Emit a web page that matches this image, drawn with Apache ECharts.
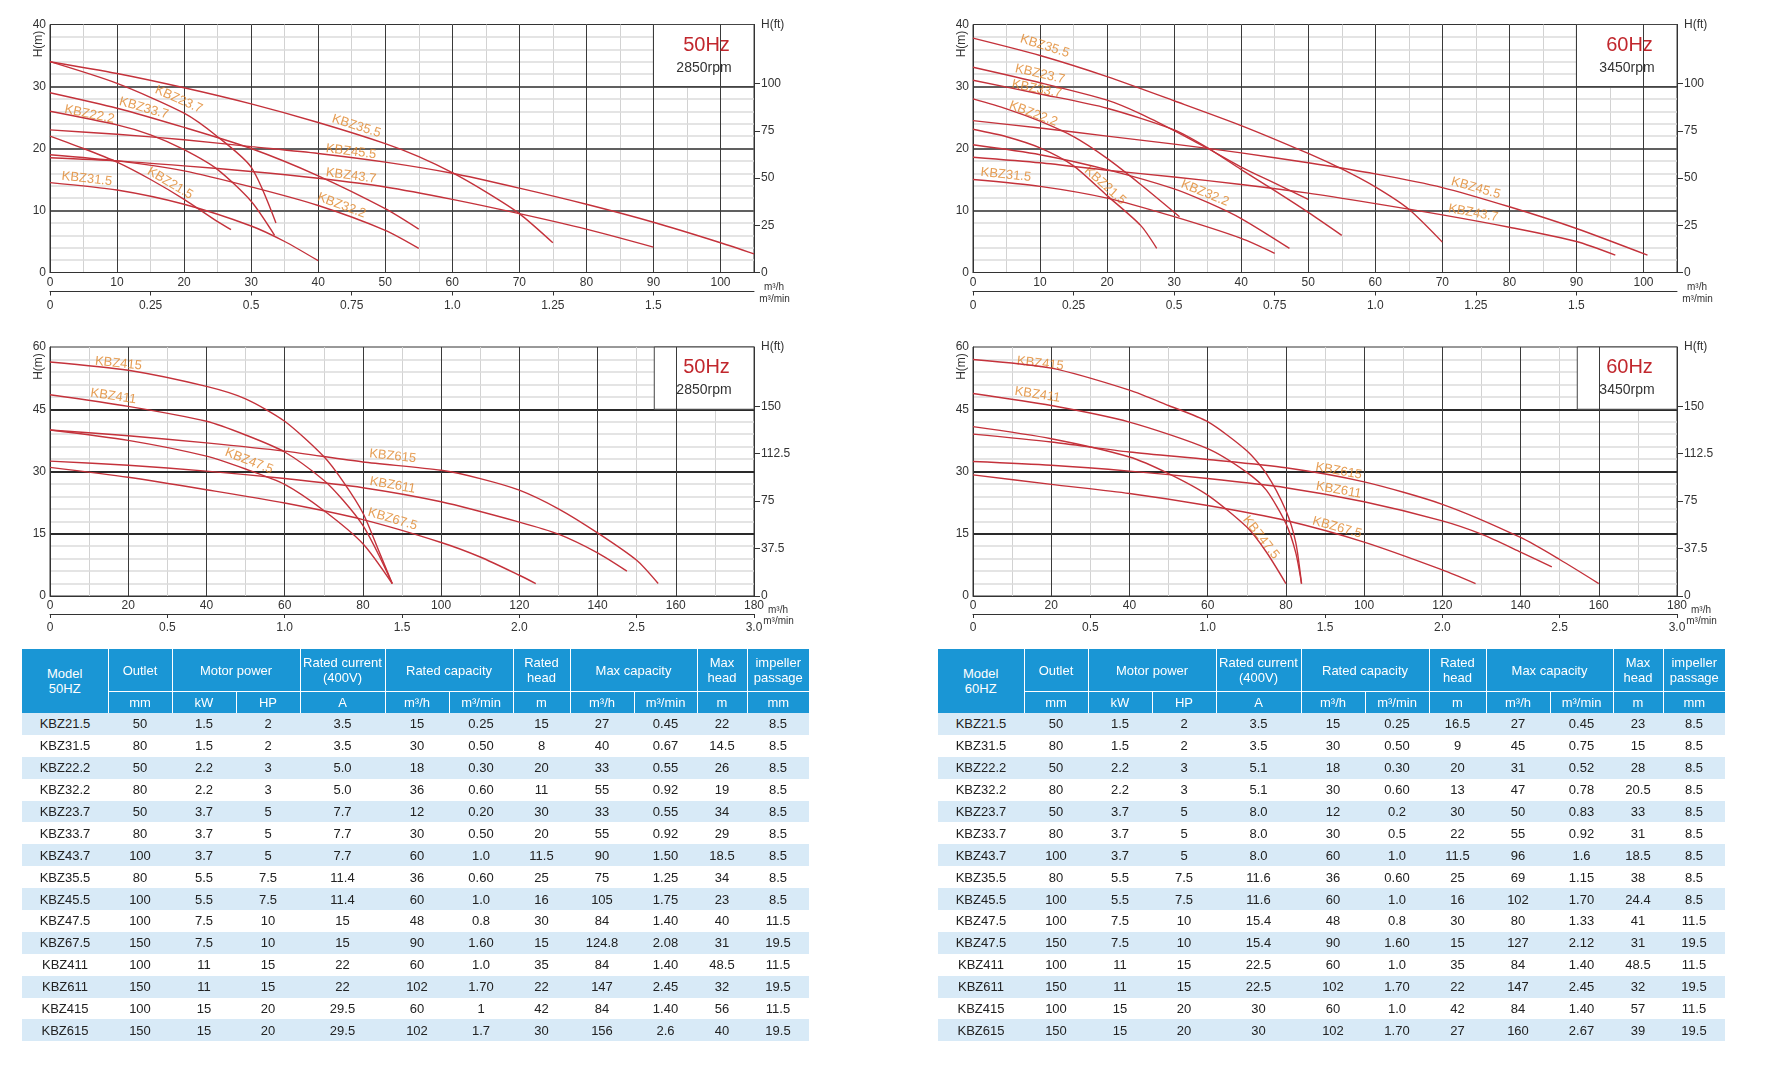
<!DOCTYPE html>
<html>
<head>
<meta charset="utf-8">
<script src="https://cdn.jsdelivr.net/npm/echarts@6/dist/echarts.min.js"></script>
<style>
  html, body { margin: 0; padding: 0; background: #fff; }
  #main { position: absolute; left: 0; top: 0; width: 1765px; height: 1091px; }
  table.spec { position: absolute; top: 649px; border-collapse: collapse; table-layout: fixed;
    font-family: 'Liberation Sans', Arial, sans-serif; font-size: 13px; color: #222; }
  table.spec td { text-align: center; padding: 0; white-space: nowrap; overflow: hidden; }
  table.spec tr.h1 td { background: #1a96d5; color: #fff; height: 42px; line-height: 15px; border: 1px solid #fff; border-top: none; }
  table.spec tr.h2 td { background: #1a96d5; color: #fff; height: 21px; border: 1px solid #fff; border-bottom: none; }
  table.spec tr.row td { height: 21.9px; }
  table.spec tr.row:nth-child(odd) td { background: #d8eaf7; }
</style>
</head>
<body>
<div id="main"></div>
<div id="tables"></div>
<script>
// ---- curve data: [flow m3/h, head m] ----
const curves50Small = [
  ['KBZ21.5', [[0, 22], [5, 20], [10, 17.8], [15, 15], [20, 11.8], [25, 8.2], [27, 6.9]]],
  ['KBZ31.5', [[0, 14.5], [10, 13.3], [20, 11], [30, 7.5], [35, 5], [40, 1.9]]],
  ['KBZ22.2', [[0, 26], [10, 23.8], [15, 22.2], [20, 19.8], [25, 16.6], [30, 11.5], [33.5, 6]]],
  ['KBZ32.2', [[0, 19], [10, 18], [20, 16.4], [30, 13.8], [40, 10.8], [50, 6.8], [55, 3.9]]],
  ['KBZ23.7', [[0, 34], [10, 30.5], [20, 25.7], [25, 21.9], [30, 17], [33.7, 8]]],
  ['KBZ33.7', [[0, 29], [10, 26.5], [20, 23.4], [30, 20], [40, 15.6], [50, 10.3], [55, 7]]],
  ['KBZ43.7', [[0, 18.5], [10, 18], [20, 17.2], [30, 16.3], [40, 15.2], [50, 13.8], [60, 11.8], [70, 9.5], [80, 7], [90, 4.1]]],
  ['KBZ35.5', [[0, 34], [10, 32.1], [20, 29.8], [30, 27.2], [40, 24.2], [50, 20.8], [55, 18.7], [60, 16.1], [65, 13], [70, 9.5], [75, 4.8]]],
  ['KBZ45.5', [[0, 23], [10, 22.3], [20, 21.4], [30, 20.3], [40, 19.2], [50, 17.8], [60, 16], [70, 13.6], [80, 11], [90, 8.1], [100, 4.8], [105, 3]]]
];
const curves60Small = [
  ['KBZ21.5', [[0, 23.1], [5, 21.9], [10, 20.1], [15, 17.2], [20, 12.4], [25, 7.6], [27.4, 3.9]]],
  ['KBZ31.5', [[0, 15], [10, 13.9], [20, 12], [30, 9], [40, 5.5], [45, 3.1]]],
  ['KBZ22.2', [[0, 28], [5, 26.4], [10, 24.4], [15, 21.9], [20, 18.4], [25, 14.2], [30.8, 9]]],
  ['KBZ32.2', [[0, 20.6], [10, 19], [20, 16.6], [30, 13.5], [35, 11.3], [40, 8.7], [47.2, 3.9]]],
  ['KBZ23.7', [[0, 33.1], [10, 30.6], [20, 27.8], [25, 25.6], [30, 22.9], [35, 20], [40, 17], [45, 14.4], [50, 11.8]]],
  ['KBZ33.7', [[0, 31], [10, 28.8], [20, 26.5], [30, 23], [35, 20.1], [40, 16.6], [45, 13.2], [50, 9.7], [55, 6]]],
  ['KBZ43.7', [[0, 18.6], [10, 17.7], [20, 16.5], [30, 15.4], [40, 14.2], [50, 12.8], [60, 11.1], [70, 9.3], [80, 7.3], [90, 5], [95.8, 2.8]]],
  ['KBZ35.5', [[0, 37.8], [10, 35], [20, 31.6], [30, 27.7], [40, 23.7], [50, 19.2], [55, 16.7], [60, 13.8], [65, 10.2], [70, 4.9]]],
  ['KBZ45.5', [[0, 24.5], [10, 23.3], [20, 22], [30, 20.7], [40, 19.3], [50, 17.7], [60, 15.9], [70, 13.7], [80, 10.6], [90, 7.1], [100.6, 2.8]]]
];
const curves50Large = [
  ['KBZ415', [[0, 56.4], [20, 54.4], [40, 50.5], [50, 47.5], [60, 42.1], [70, 33.6], [75, 27.5], [80, 20], [84, 11], [87.5, 3]]],
  ['KBZ411', [[0, 48.5], [20, 45.7], [40, 42.1], [50, 38.8], [60, 34.7], [70, 27.9], [75, 23], [80, 17], [84, 10], [87.5, 3]]],
  ['KBZ47.5', [[0, 40], [20, 37.5], [40, 33.7], [50, 30.6], [60, 26.9], [70, 20.6], [80, 12.6], [87.5, 3]]],
  ['KBZ615', [[0, 40], [20, 38.6], [40, 36.9], [60, 34.9], [80, 32.3], [100, 30.3], [110, 28.3], [120, 25.5], [130, 21], [140, 15.2], [150, 8.6], [155.5, 3]]],
  ['KBZ611', [[0, 32.5], [20, 31.5], [40, 30.1], [60, 28.3], [80, 26.1], [100, 22.7], [120, 17.8], [130, 14.9], [140, 10.4], [147.5, 6]]],
  ['KBZ67.5', [[0, 31], [20, 28.6], [40, 25.6], [60, 22.4], [80, 18.4], [100, 12.9], [110, 9.4], [120, 5], [124.2, 3]]]
];
const curves60Large = [
  ['KBZ415', [[0, 57], [20, 54.9], [40, 49.6], [50, 45.9], [60, 42], [70, 35], [75, 29.5], [80, 20.6], [82.5, 13], [84, 3]]],
  ['KBZ411', [[0, 48.8], [20, 45.9], [40, 41.9], [60, 35.5], [70, 29.8], [75, 25.5], [80, 17.5], [82.5, 10.5], [84, 3]]],
  ['KBZ47.5', [[0, 40.8], [20, 37.9], [40, 33.5], [50, 29.5], [60, 24.3], [70, 16.6], [75, 10.6], [80, 3]]],
  ['KBZ615', [[0, 39], [20, 37.1], [40, 34.7], [60, 32.9], [80, 30.9], [100, 27.5], [120, 22.1], [140, 14.1], [150, 8.8], [160, 3]]],
  ['KBZ611', [[0, 32.4], [20, 31.5], [40, 30.1], [60, 28.3], [80, 26.1], [100, 22.7], [120, 18.1], [130, 14.9], [140, 10.6], [148, 7]]],
  ['KBZ67.5', [[0, 29.2], [20, 26.9], [40, 24.7], [60, 21.8], [80, 18.2], [100, 13], [120, 6.3], [128.5, 3]]]
];

// ---- where each curve name sits: [name, flow, head] ----
const labels50Small = [
  ['KBZ23.7', 19.2, 27.9], ['KBZ33.7', 14, 26.5], ['KBZ22.2', 5.9, 25.5],
  ['KBZ35.5', 45.7, 23.6], ['KBZ45.5', 44.9, 19.5], ['KBZ43.7', 44.9, 15.6],
  ['KBZ32.2', 43.5, 10.8], ['KBZ31.5', 5.5, 15.1], ['KBZ21.5', 17.9, 14.4]
];
const labels60Small = [
  ['KBZ35.5', 10.7, 36.5], ['KBZ23.7', 10, 32], ['KBZ33.7', 9.5, 29.6],
  ['KBZ22.2', 9, 25.6], ['KBZ31.5', 4.9, 15.75], ['KBZ21.5', 19.7, 14],
  ['KBZ32.2', 34.6, 12.8], ['KBZ45.5', 75, 13.6], ['KBZ43.7', 74.6, 9.6]
];
const labels50Large = [
  ['KBZ415', 17.5, 56], ['KBZ411', 16.2, 48.1], ['KBZ47.5', 50.9, 32.5],
  ['KBZ615', 87.6, 33.7], ['KBZ611', 87.6, 26.7], ['KBZ67.5', 87.6, 18.5]
];
const labels60Large = [
  ['KBZ415', 17.2, 56], ['KBZ411', 16.5, 48.5], ['KBZ615', 93.5, 30.1],
  ['KBZ611', 93.5, 25.5], ['KBZ67.5', 93.1, 16.5], ['KBZ47.5', 73.6, 14.1]
];

// ---- secondary axis ticks ----
const flowTicksSmall = [0, 0.25, 0.5, 0.75, 1.0, 1.25, 1.5];
const flowTicksLarge = [0, 0.5, 1.0, 1.5, 2.0, 2.5, 3.0];
const ftTicksSmall = [0, 25, 50, 75, 100];
const ftTicksLarge = [0, 37.5, 75, 112.5, 150];

// ---- tables ----
const headTop = [
  ['Outlet', 1], ['Motor power', 2], ['Rated current<br>(400V)', 1], ['Rated capacity', 2],
  ['Rated<br>head', 1], ['Max capacity', 2], ['Max<br>head', 1], ['impeller<br>passage', 1]
];
const headUnits = ['mm', 'kW', 'HP', 'A', 'm³/h', 'm³/min', 'm', 'm³/h', 'm³/min', 'm', 'mm'];
const table50 = [
  ['KBZ21.5', '50', '1.5', '2', '3.5', '15', '0.25', '15', '27', '0.45', '22', '8.5'],
  ['KBZ31.5', '80', '1.5', '2', '3.5', '30', '0.50', '8', '40', '0.67', '14.5', '8.5'],
  ['KBZ22.2', '50', '2.2', '3', '5.0', '18', '0.30', '20', '33', '0.55', '26', '8.5'],
  ['KBZ32.2', '80', '2.2', '3', '5.0', '36', '0.60', '11', '55', '0.92', '19', '8.5'],
  ['KBZ23.7', '50', '3.7', '5', '7.7', '12', '0.20', '30', '33', '0.55', '34', '8.5'],
  ['KBZ33.7', '80', '3.7', '5', '7.7', '30', '0.50', '20', '55', '0.92', '29', '8.5'],
  ['KBZ43.7', '100', '3.7', '5', '7.7', '60', '1.0', '11.5', '90', '1.50', '18.5', '8.5'],
  ['KBZ35.5', '80', '5.5', '7.5', '11.4', '36', '0.60', '25', '75', '1.25', '34', '8.5'],
  ['KBZ45.5', '100', '5.5', '7.5', '11.4', '60', '1.0', '16', '105', '1.75', '23', '8.5'],
  ['KBZ47.5', '100', '7.5', '10', '15', '48', '0.8', '30', '84', '1.40', '40', '11.5'],
  ['KBZ67.5', '150', '7.5', '10', '15', '90', '1.60', '15', '124.8', '2.08', '31', '19.5'],
  ['KBZ411', '100', '11', '15', '22', '60', '1.0', '35', '84', '1.40', '48.5', '11.5'],
  ['KBZ611', '150', '11', '15', '22', '102', '1.70', '22', '147', '2.45', '32', '19.5'],
  ['KBZ415', '100', '15', '20', '29.5', '60', '1', '42', '84', '1.40', '56', '11.5'],
  ['KBZ615', '150', '15', '20', '29.5', '102', '1.7', '30', '156', '2.6', '40', '19.5']
];
const table60 = [
  ['KBZ21.5', '50', '1.5', '2', '3.5', '15', '0.25', '16.5', '27', '0.45', '23', '8.5'],
  ['KBZ31.5', '80', '1.5', '2', '3.5', '30', '0.50', '9', '45', '0.75', '15', '8.5'],
  ['KBZ22.2', '50', '2.2', '3', '5.1', '18', '0.30', '20', '31', '0.52', '28', '8.5'],
  ['KBZ32.2', '80', '2.2', '3', '5.1', '30', '0.60', '13', '47', '0.78', '20.5', '8.5'],
  ['KBZ23.7', '50', '3.7', '5', '8.0', '12', '0.2', '30', '50', '0.83', '33', '8.5'],
  ['KBZ33.7', '80', '3.7', '5', '8.0', '30', '0.5', '22', '55', '0.92', '31', '8.5'],
  ['KBZ43.7', '100', '3.7', '5', '8.0', '60', '1.0', '11.5', '96', '1.6', '18.5', '8.5'],
  ['KBZ35.5', '80', '5.5', '7.5', '11.6', '36', '0.60', '25', '69', '1.15', '38', '8.5'],
  ['KBZ45.5', '100', '5.5', '7.5', '11.6', '60', '1.0', '16', '102', '1.70', '24.4', '8.5'],
  ['KBZ47.5', '100', '7.5', '10', '15.4', '48', '0.8', '30', '80', '1.33', '41', '11.5'],
  ['KBZ47.5', '150', '7.5', '10', '15.4', '90', '1.60', '15', '127', '2.12', '31', '19.5'],
  ['KBZ411', '100', '11', '15', '22.5', '60', '1.0', '35', '84', '1.40', '48.5', '11.5'],
  ['KBZ611', '150', '11', '15', '22.5', '102', '1.70', '22', '147', '2.45', '32', '19.5'],
  ['KBZ415', '100', '15', '20', '30', '60', '1.0', '42', '84', '1.40', '57', '11.5'],
  ['KBZ615', '150', '15', '20', '30', '102', '1.70', '27', '160', '2.67', '39', '19.5']
];

const M_TO_FT = 3.28084;
const FONT = "'Liberation Sans', Arial, sans-serif";
const RED = '#c4323b';
const ORANGE = '#e0862a';

// layout of the four plots
const plots = [
  { left: 50, top: 24.5, width: 704, height: 248, xMax: 105, xStep: 10, xMinor: 5, yMax: 40, yStep: 10, yMinor: 5,
    flowTicks: flowTicksSmall, ftTicks: ftTicksSmall, flowOffset: 19, curves: curves50Small, labels: labels50Small,
    box: [[90, 30], [105, 40]], hz: '50Hz', rpm: '2850rpm', major: '#606060', unitDx: 20, unitY: [15, 26.5] },
  { left: 973, top: 24.5, width: 704, height: 248, xMax: 105, xStep: 10, xMinor: 5, yMax: 40, yStep: 10, yMinor: 5,
    flowTicks: flowTicksSmall, ftTicks: ftTicksSmall, flowOffset: 19, curves: curves60Small, labels: labels60Small,
    box: [[90, 30], [105, 40]], hz: '60Hz', rpm: '3450rpm', major: '#606060', unitDx: 20, unitY: [15, 26.5] },
  { left: 50, top: 347, width: 704, height: 249, xMax: 180, xStep: 20, xMinor: 10, yMax: 60, yStep: 15, yMinor: 5,
    flowTicks: flowTicksLarge, ftTicks: ftTicksLarge, flowOffset: 18, curves: curves50Large, labels: labels50Large,
    box: [[154.5, 45], [180, 60]], hz: '50Hz', rpm: '2850rpm', major: '#2a2a2a', unitDx: 24, unitY: [14.5, 25] },
  { left: 973, top: 347, width: 704, height: 249, xMax: 180, xStep: 20, xMinor: 10, yMax: 60, yStep: 15, yMinor: 5,
    flowTicks: flowTicksLarge, ftTicks: ftTicksLarge, flowOffset: 18, curves: curves60Large, labels: labels60Large,
    box: [[154.5, 45], [180, 60]], hz: '60Hz', rpm: '3450rpm', major: '#2a2a2a', unitDx: 24, unitY: [14.5, 25] }
];

// slope of a curve at flow q, turned into a label angle in screen space
function labelAngle(points, q, p) {
  let i = 0;
  while (i < points.length - 2 && points[i + 1][0] < q) i++;
  const s = (points[i + 1][1] - points[i][1]) / (points[i + 1][0] - points[i][0]);
  const k = (p.height / p.yMax) / (p.width / p.xMax);
  return Math.atan(s * k) * 180 / Math.PI;
}

function flowFmt(v) {
  if (v === 0) return '0';
  return Number.isInteger(v) ? v.toFixed(1) : String(v);
}

const grid = [], xAxis = [], yAxis = [], series = [], graphic = [];

plots.forEach((p, g) => {
  grid.push({ left: p.left, top: p.top, width: p.width, height: p.height, show: true,
    borderColor: '#333', borderWidth: 1, backgroundColor: 'transparent' });

  // x: minor grid, main axis, m3/min axis
  xAxis.push({ gridIndex: g, type: 'value', min: 0, max: p.xMax, interval: p.xMinor, position: 'bottom', z: 0,
    axisLine: { show: false, onZero: false }, axisTick: { show: false }, axisLabel: { show: false },
    splitLine: { show: true, lineStyle: { color: '#d2d2d2', width: 1 } } });
  xAxis.push({ gridIndex: g, type: 'value', min: 0, max: p.xMax, interval: p.xStep, position: 'bottom', z: 2,
    axisLine: { show: true, onZero: false, lineStyle: { color: '#333', width: 1 } }, axisTick: { show: false },
    axisLabel: { color: '#333', fontSize: 12, margin: 4, fontFamily: FONT, showMaxLabel: p.xMax % p.xStep === 0 },
    splitLine: { show: true, showMinLine: false, lineStyle: { color: '#3a3a3a', width: 1 } } });
  xAxis.push({ gridIndex: g, type: 'value', min: 0, max: p.xMax / 60, position: 'bottom', offset: p.flowOffset, z: 2,
    axisLine: { show: true, onZero: false, lineStyle: { color: '#333', width: 1 } },
    axisTick: { show: true, customValues: p.flowTicks, length: 4, lineStyle: { color: '#333' } },
    axisLabel: { customValues: p.flowTicks, formatter: flowFmt, color: '#333', fontSize: 12, margin: 8, fontFamily: FONT },
    splitLine: { show: false } });

  // y: metres on the left, feet on the right
  yAxis.push({ gridIndex: g, type: 'value', position: 'left', min: 0, max: p.yMax, interval: p.yStep, z: 1,
    axisLine: { show: true, onZero: false, lineStyle: { color: '#333', width: 1 } }, axisTick: { show: false },
    axisLabel: { color: '#333', fontSize: 12, margin: 4, fontFamily: FONT },
    splitLine: { show: true, showMinLine: false, showMaxLine: false, lineStyle: { color: p.major, width: 2 } },
    minorTick: { show: false, splitNumber: p.yMinor },
    minorSplitLine: { show: true, lineStyle: { color: '#dcdcdc', width: 1.5 } } });
  yAxis.push({ gridIndex: g, type: 'value', position: 'right', min: 0, max: p.yMax * M_TO_FT, z: 2,
    axisLine: { show: true, onZero: false, lineStyle: { color: '#333', width: 1 } },
    axisTick: { show: true, customValues: p.ftTicks, length: 6, lineStyle: { color: '#333' } },
    axisLabel: { customValues: p.ftTicks, color: '#333', fontSize: 12, margin: 7, fontFamily: FONT },
    splitLine: { show: false } });

  const xi = g * 3 + 1, yi = g * 2;

  p.curves.forEach(([name, pts]) => {
    series.push({ type: 'line', name, xAxisIndex: xi, yAxisIndex: yi, data: pts, z: 4,
      smooth: 0.25, showSymbol: false, silent: true,
      lineStyle: { color: RED, width: 1.4 } });
  });

  const byName = Object.fromEntries(p.curves);
  series.push({ type: 'scatter', xAxisIndex: xi, yAxisIndex: yi, z: 3, silent: true,
    symbolSize: 1, itemStyle: { color: 'rgba(0,0,0,0)' },
    data: p.labels.map(([name, q, h]) => ({ name, value: [q, h],
      label: { rotate: labelAngle(byName[name], q, p) } })),
    label: { show: true, position: 'inside', formatter: '{b}', color: ORANGE, fontSize: 13, fontFamily: FONT },
    markArea: { silent: true, itemStyle: { color: '#fff', borderColor: '#444', borderWidth: 1 },
      data: [[{ coord: p.box[0] }, { coord: p.box[1] }]] } });

  const R = p.left + p.width, B = p.top + p.height;
  graphic.push(
    { type: 'text', x: p.left - 11.5, y: p.top + 19.5, rotation: Math.PI / 2,
      style: { text: 'H(m)', fontSize: 12, fontFamily: FONT, fill: '#333', align: 'center', verticalAlign: 'middle' } },
    { type: 'text', x: R + 7, y: p.top,
      style: { text: 'H(ft)', fontSize: 12, fontFamily: FONT, fill: '#333', align: 'left', verticalAlign: 'middle' } },
    { type: 'text', x: R + p.unitDx, y: B + p.unitY[0],
      style: { text: 'm³/h', fontSize: 10, fontFamily: FONT, fill: '#333', align: 'center', verticalAlign: 'middle' } },
    { type: 'text', x: R + p.unitDx + 0.5, y: B + p.unitY[1],
      style: { text: 'm³/min', fontSize: 10, fontFamily: FONT, fill: '#333', align: 'center', verticalAlign: 'middle' } },
    { type: 'text', x: R - 47.5, y: p.top + 20.5, z: 10,
      style: { text: p.hz, fontSize: 20, fontFamily: FONT, fill: '#c1272d', align: 'center', verticalAlign: 'middle' } },
    { type: 'text', x: R - 50, y: p.top + 43.5, z: 10,
      style: { text: p.rpm, fontSize: 14, fontFamily: FONT, fill: '#333', align: 'center', verticalAlign: 'middle' } }
  );
});

const chart = echarts.init(document.getElementById('main'), null, { renderer: 'canvas' });
chart.setOption({
  animation: false,
  textStyle: { fontFamily: FONT },
  grid, xAxis, yAxis, series, graphic
});

// ---- spec tables ----
const colWidths = [86, 64, 64, 64, 85, 64, 64, 57, 64, 63, 50, 62];
function buildTable(left, hzTitle, rows) {
  let html = `<table class="spec" style="left:${left}px;width:${colWidths.reduce((a, b) => a + b, 0)}px"><colgroup>`;
  colWidths.forEach(w => { html += `<col style="width:${w}px">`; });
  html += '</colgroup><tr class="h1">';
  html += `<td rowspan="2" style="border-left:none;border-bottom:none">Model<br>${hzTitle}</td>`;
  headTop.forEach(([t, span], i) => {
    html += `<td colspan="${span}"${i === headTop.length - 1 ? ' style="border-right:none"' : ''}>${t}</td>`;
  });
  html += '</tr><tr class="h2">';
  headUnits.forEach((u, i) => {
    html += `<td${i === headUnits.length - 1 ? ' style="border-right:none"' : ''}>${u}</td>`;
  });
  html += '</tr>';
  rows.forEach(r => {
    html += '<tr class="row">' + r.map(v => `<td>${v}</td>`).join('') + '</tr>';
  });
  html += '</table>';
  return html;
}
document.getElementById('tables').innerHTML =
  buildTable(22, '50HZ', table50) + buildTable(938, '60HZ', table60);
</script>
</body>
</html>
